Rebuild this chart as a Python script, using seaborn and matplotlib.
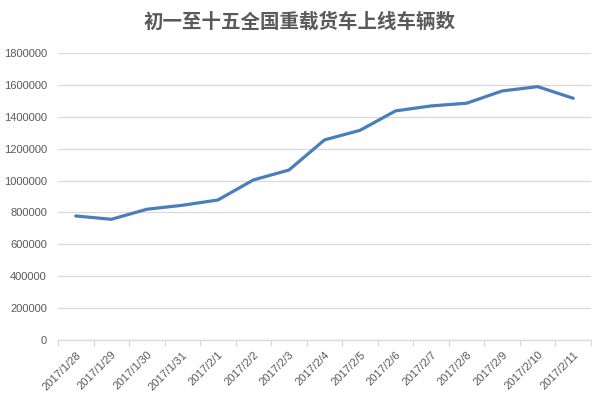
import matplotlib
matplotlib.use("Agg")
import matplotlib.pyplot as plt
import seaborn as sns
import pandas as pd

dates = ["2017/1/28", "2017/1/29", "2017/1/30", "2017/1/31", "2017/2/1", "2017/2/2",
         "2017/2/3", "2017/2/4", "2017/2/5", "2017/2/6", "2017/2/7", "2017/2/8",
         "2017/2/9", "2017/2/10", "2017/2/11"]
values = [778000, 757000, 820000, 845000, 878000, 1004000, 1066000, 1255000,
          1315000, 1437000, 1468000, 1485000, 1562000, 1589000, 1516000]
yticks = [0, 200000, 400000, 600000, 800000, 1000000, 1200000, 1400000, 1600000, 1800000]
title = "初一至十五全国重载货车上线车辆数"

sns.set_theme(style="white")
plt.rcParams['font.family'] = ['Liberation Sans', 'Noto Sans CJK SC', 'DejaVu Sans']

df = pd.DataFrame({"date": dates, "value": values, "idx": range(len(dates))})

fig = plt.figure(figsize=(6, 3.99), dpi=100)
ax = fig.add_axes([58/600, 1-340/399, (591-58)/600, (340-53)/399])

sns.lineplot(data=df, x="idx", y="value", ax=ax, color="#4a7ebb", linewidth=2.3)

ax.set_xlim(-0.5, len(dates)-0.5)
ax.set_ylim(0, 1800000)
ax.set_yticks(yticks)
ax.set_yticklabels([str(v) for v in yticks], fontsize=8, color="#595959")
ax.yaxis.grid(True, color="#d9d9d9", linewidth=0.9)
ax.xaxis.grid(False)
ax.set_xticks(range(len(dates)))
ax.set_xticklabels(dates, rotation=45, ha="right", rotation_mode="anchor",
                   fontsize=8, color="#595959")
ax.set_xticks([i-0.5 for i in range(len(dates)+1)], minor=True)
ax.tick_params(axis='x', which='major', length=0, pad=7)
ax.tick_params(axis='x', which='minor', length=4, color="#d9d9d9", width=0.9, bottom=True)
ax.tick_params(axis='y', length=0, pad=8)
for s in ["top", "right", "left"]:
    ax.spines[s].set_visible(False)
ax.spines["bottom"].set_color("#d9d9d9")
ax.spines["bottom"].set_linewidth(0.9)
ax.set_xlabel("")
ax.set_ylabel("")

fig.text(0.5, 1-22/399, title, ha="center", va="center", fontsize=14,
         fontweight="bold", color="#595959", family=['Noto Sans CJK SC', 'DejaVu Sans'])

fig.savefig("out.png", dpi=100, facecolor="white")
